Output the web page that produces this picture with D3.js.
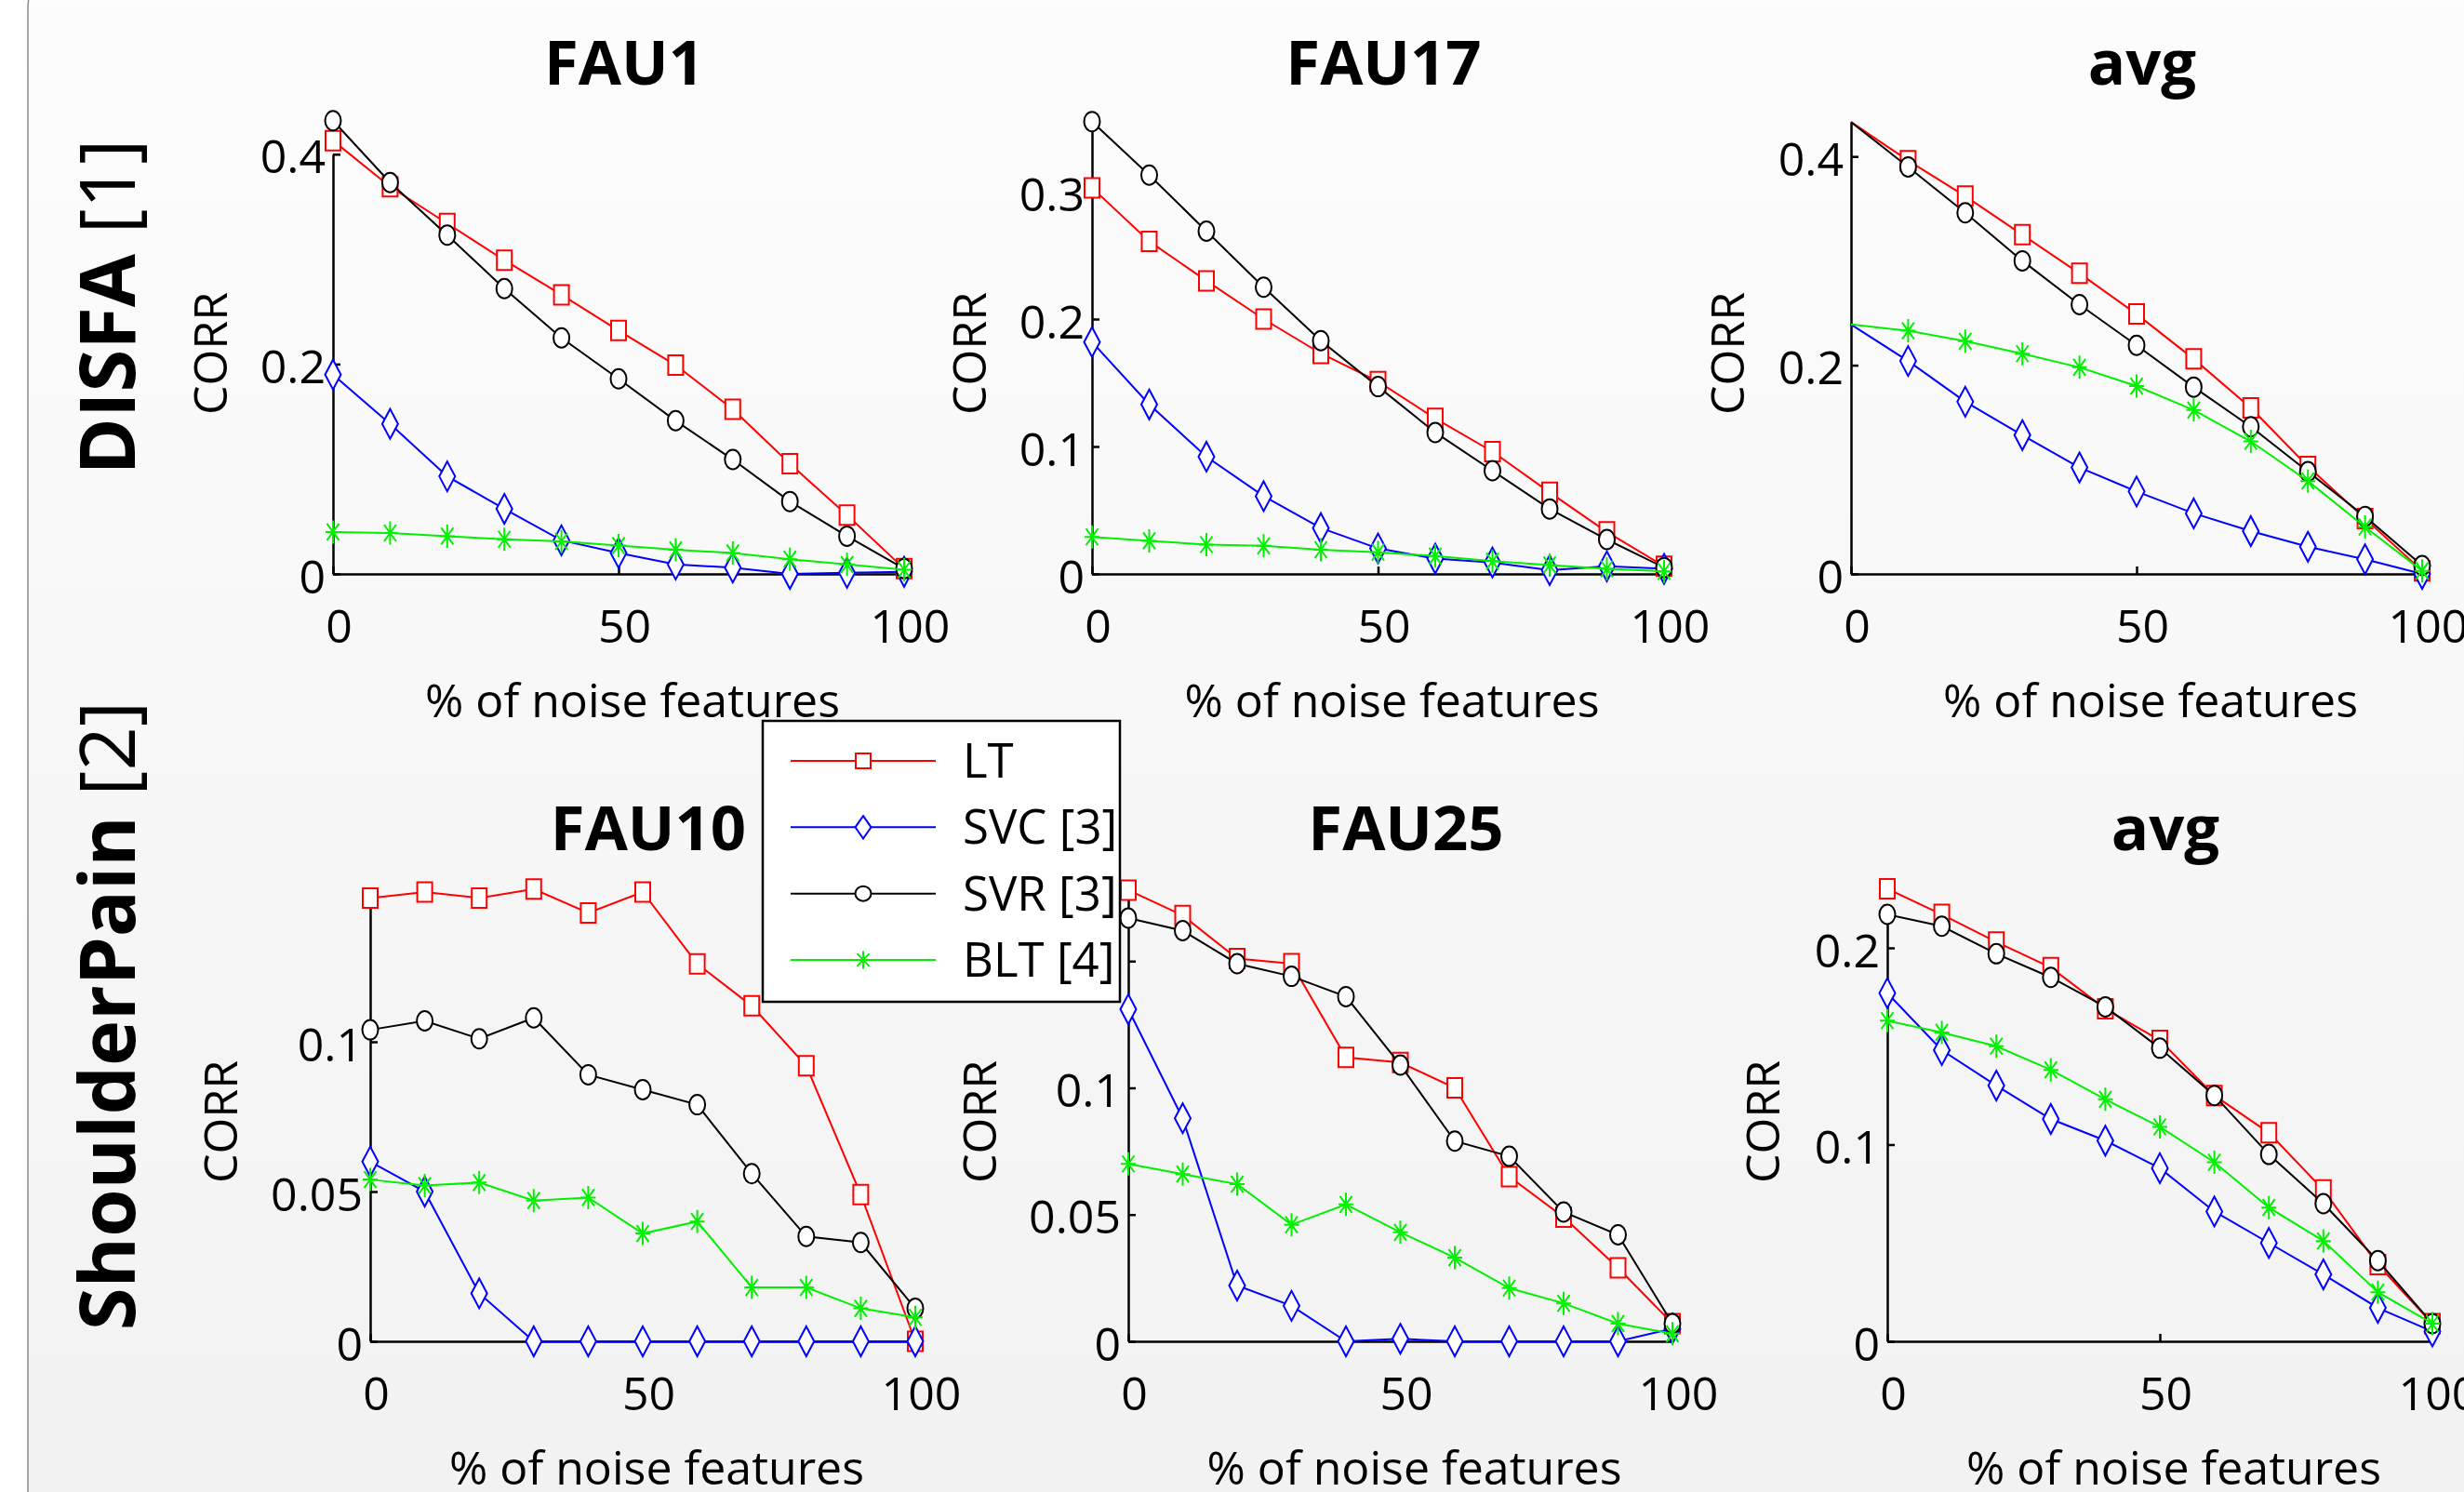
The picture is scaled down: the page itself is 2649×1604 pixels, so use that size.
<!DOCTYPE html>
<html lang="en">
<head>
<meta charset="UTF-8">
<title>CORR vs % of noise features</title>
<script src="https://d3js.org/d3.v7.min.js"></script>
<style>
  body { margin: 0; background: #fff; }
  svg text { font-family: "Open Sans", sans-serif; fill: #000; }
  .axis path, .axis line { stroke: #000; stroke-width: 2.5px; }
  .axis text { font-size: 50px; font-family: "Open Sans", sans-serif; }
</style>
</head>
<body>
<script>
// % of noise features
const noise = [0, 10, 20, 30, 40, 50, 60, 70, 80, 90, 100];

// DISFA [1] - FAU1
const fau1LT  = [0.413, 0.369, 0.334, 0.299, 0.266, 0.232, 0.199, 0.157, 0.105, 0.056, 0.005];
const fau1SVC = [0.190, 0.143, 0.093, 0.062, 0.032, 0.020, 0.009, 0.006, 0.000, 0.001, 0.002];
const fau1SVR = [0.432, 0.373, 0.323, 0.272, 0.225, 0.186, 0.146, 0.109, 0.069, 0.036, 0.005];
const fau1BLT = [0.040, 0.039, 0.036, 0.033, 0.031, 0.027, 0.023, 0.020, 0.014, 0.009, 0.004];

// DISFA [1] - FAU17
const fau17LT  = [0.303, 0.261, 0.230, 0.200, 0.173, 0.151, 0.122, 0.096, 0.064, 0.033, 0.006];
const fau17SVC = [0.182, 0.133, 0.092, 0.061, 0.036, 0.020, 0.012, 0.009, 0.003, 0.006, 0.004];
const fau17SVR = [0.355, 0.313, 0.269, 0.225, 0.183, 0.147, 0.111, 0.081, 0.051, 0.027, 0.005];
const fau17BLT = [0.029, 0.026, 0.023, 0.022, 0.019, 0.017, 0.014, 0.010, 0.007, 0.004, 0.002];

// DISFA [1] - avg
const disfaAvgLT  = [0.433, 0.396, 0.362, 0.325, 0.288, 0.249, 0.206, 0.159, 0.103, 0.053, 0.003];
const disfaAvgSVC = [0.239, 0.204, 0.165, 0.133, 0.102, 0.079, 0.058, 0.041, 0.026, 0.014, 0.000];
const disfaAvgSVR = [0.433, 0.390, 0.346, 0.300, 0.258, 0.219, 0.179, 0.141, 0.098, 0.055, 0.008];
const disfaAvgBLT = [0.239, 0.233, 0.223, 0.211, 0.198, 0.180, 0.157, 0.127, 0.089, 0.045, 0.003];

// ShoulderPain [2] - FAU10
const fau10LT  = [0.148, 0.150, 0.148, 0.151, 0.143, 0.150, 0.126, 0.112, 0.092, 0.049, 0.000];
const fau10SVC = [0.060, 0.050, 0.016, 0.000, 0.000, 0.000, 0.000, 0.000, 0.000, 0.000, 0.000];
const fau10SVR = [0.104, 0.107, 0.101, 0.108, 0.089, 0.084, 0.079, 0.056, 0.035, 0.033, 0.011];
const fau10BLT = [0.054, 0.052, 0.053, 0.047, 0.048, 0.036, 0.040, 0.018, 0.018, 0.011, 0.008];

// ShoulderPain [2] - FAU25
const fau25LT  = [0.178, 0.168, 0.151, 0.149, 0.112, 0.110, 0.100, 0.065, 0.049, 0.029, 0.007];
const fau25SVC = [0.131, 0.088, 0.022, 0.014, 0.000, 0.001, 0.000, 0.000, 0.000, 0.000, 0.005];
const fau25SVR = [0.167, 0.162, 0.149, 0.144, 0.136, 0.109, 0.079, 0.073, 0.051, 0.042, 0.007];
const fau25BLT = [0.070, 0.066, 0.062, 0.046, 0.054, 0.043, 0.033, 0.021, 0.015, 0.007, 0.003];

// ShoulderPain [2] - avg
const spAvgLT  = [0.230, 0.217, 0.203, 0.190, 0.169, 0.153, 0.125, 0.106, 0.077, 0.039, 0.009];
const spAvgSVC = [0.177, 0.148, 0.130, 0.113, 0.102, 0.088, 0.066, 0.050, 0.034, 0.017, 0.005];
const spAvgSVR = [0.217, 0.211, 0.197, 0.185, 0.170, 0.149, 0.125, 0.095, 0.070, 0.041, 0.009];
const spAvgBLT = [0.163, 0.157, 0.150, 0.138, 0.123, 0.109, 0.091, 0.068, 0.051, 0.025, 0.009];

const titles = ["FAU1", "FAU17", "avg", "FAU10", "FAU25", "avg"];
const yTicks = [[0, 0.2, 0.4], [0, 0.1, 0.2, 0.3], [0, 0.2, 0.4], [0, 0.05, 0.1], [0, 0.05, 0.1, 0.15], [0, 0.1, 0.2]];
const yMaxes = [0.4, 0.355, 0.433, 0.145, 0.175, 0.217];
const xTicks = [0, 50, 100];
const rowNames = [["DISFA", " [1]"], ["ShoulderPain", " [2]"]];
const seriesNames = ["LT", "SVC [3]", "SVR [3]", "BLT [4]"];

const panelData = [
  [fau1LT, fau1SVC, fau1SVR, fau1BLT],
  [fau17LT, fau17SVC, fau17SVR, fau17BLT],
  [disfaAvgLT, disfaAvgSVC, disfaAvgSVR, disfaAvgBLT],
  [fau10LT, fau10SVC, fau10SVR, fau10BLT],
  [fau25LT, fau25SVC, fau25SVR, fau25BLT],
  [spAvgLT, spAvgSVC, spAvgSVR, spAvgBLT]
];

// layout (pixels)
const W = 2649, H = 1604;
const boxes = [
  {left: 358,  right: 972,  bottom: 617,  ppu: 1128, corrGap: 114, row: 0},
  {left: 1174, right: 1789, bottom: 617,  ppu: 1370, corrGap: 114, row: 0},
  {left: 1990, right: 2604, bottom: 617,  ppu: 1122, corrGap: 115, row: 0, skipFirst: true},
  {left: 398,  right: 984,  bottom: 1442, ppu: 3220, corrGap: 143, row: 1},
  {left: 1213, right: 1798, bottom: 1442, ppu: 2725, corrGap: 142, row: 1},
  {left: 2029, right: 2615, bottom: 1442, ppu: 2115, corrGap: 116, row: 1}
];
const rowTitleY = [91, 914];
const rowCorrY = [380, 1206];
const rowLabelY = [330, 1092];

const styles = [
  {color: "#ff0000", shape: "square"},
  {color: "#0000ff", shape: "diamond"},
  {color: "#000000", shape: "circle"},
  {color: "#00f000", shape: "asterisk"}
];

function markerPath(shape, sy) {
  if (shape === "square") return `M-8,${-10.5 * sy}H8V${10.5 * sy}H-8Z`;
  if (shape === "circle") {
    const rx = 8.5, ry = 10.5 * sy;
    return `M${-rx},0A${rx},${ry} 0 1,0 ${rx},0A${rx},${ry} 0 1,0 ${-rx},0Z`;
  }
  if (shape === "diamond") return `M0,${-16 * sy}L8.5,0L0,${16 * sy}L-8.5,0Z`;
  return `M0,${-12.5 * sy}V${12.5 * sy}M-8,0H8M-6.5,${-9 * sy}L6.5,${9 * sy}M-6.5,${9 * sy}L6.5,${-9 * sy}`;
}

const svg = d3.select("body").append("svg")
  .attr("width", W)
  .attr("height", H);

const defs = svg.append("defs");
const grad = defs.append("linearGradient")
  .attr("id", "bg").attr("x1", 0).attr("y1", 0).attr("x2", 0).attr("y2", 1);
grad.append("stop").attr("offset", "0%").attr("stop-color", "#fdfdfd");
grad.append("stop").attr("offset", "100%").attr("stop-color", "#f1f1f1");

svg.append("rect").attr("width", W).attr("height", H).attr("fill", "#fff");
svg.append("rect")
  .attr("x", 30).attr("y", -60)
  .attr("width", W + 100).attr("height", H + 200)
  .attr("rx", 70)
  .attr("fill", "url(#bg)")
  .attr("stroke", "#8c8c8c")
  .attr("stroke-width", 1.5);

// row labels
rowNames.forEach((r, i) => {
  const t = svg.append("text")
    .attr("transform", `translate(145,${rowLabelY[i]}) rotate(-90)`)
    .attr("text-anchor", "middle")
    .style("font-size", "83px");
  t.append("tspan").attr("font-weight", 700).text(r[0]);
  t.append("tspan").attr("font-weight", 400).text(r[1]);
});

boxes.forEach((b, p) => {
  const g = svg.append("g");
  const x = d3.scaleLinear().domain([0, 100]).range([b.left, b.right]);
  const yMax = yMaxes[p];
  const y = d3.scaleLinear().domain([0, yMax]).range([b.bottom, b.bottom - yMax * b.ppu]);

  g.append("g")
    .attr("class", "axis")
    .attr("transform", `translate(0,${b.bottom})`)
    .call(d3.axisBottom(x).tickValues(xTicks).tickSizeInner(-8).tickSizeOuter(0).tickPadding(38).tickFormat(d3.format("d")))
    .call(a => a.selectAll("text").attr("dx", 6).attr("fill", "#000"));

  g.append("g")
    .attr("class", "axis")
    .attr("transform", `translate(${b.left},0)`)
    .call(d3.axisLeft(y).tickValues(yTicks[p]).tickSizeInner(-8).tickSizeOuter(0).tickPadding(8).tickFormat(d => String(d)))
    .call(a => a.selectAll("text").attr("dy", "0.4em").attr("fill", "#000"));

  // title
  g.append("text")
    .attr("x", (b.left + b.right) / 2 + 6)
    .attr("y", rowTitleY[b.row])
    .attr("text-anchor", "middle")
    .attr("font-weight", 700)
    .style("font-size", "67px")
    .text(titles[p]);

  // axis labels
  g.append("text")
    .attr("x", (b.left + b.right) / 2 + 15)
    .attr("y", b.bottom + 154)
    .attr("text-anchor", "middle")
    .style("font-size", "50px")
    .text("% of noise features");

  g.append("text")
    .attr("transform", `translate(${b.left - b.corrGap},${rowCorrY[b.row]}) rotate(-90)`)
    .attr("text-anchor", "middle")
    .style("font-size", "50px")
    .text("CORR");

  const line = d3.line().x((d, i) => x(noise[i])).y(d => y(d));

  panelData[p].forEach((vals, s) => {
    const st = styles[s];
    g.append("path")
      .datum(vals)
      .attr("d", line)
      .attr("fill", "none")
      .attr("stroke", st.color)
      .attr("stroke-width", 2);
    const pts = vals.map((v, i) => ({x: noise[i], v, i})).filter(d => !(b.skipFirst && d.i === 0));
    g.selectAll(null)
      .data(pts)
      .enter().append("path")
      .attr("transform", d => `translate(${x(d.x)},${y(d.v)})`)
      .attr("d", markerPath(st.shape, 1))
      .attr("fill", st.shape === "asterisk" ? "none" : "#fff")
      .attr("stroke", st.color)
      .attr("stroke-width", 2);
  });
});

// legend
const leg = svg.append("g");
leg.append("rect")
  .attr("x", 820).attr("y", 775)
  .attr("width", 384).attr("height", 302)
  .attr("fill", "#fff")
  .attr("stroke", "#000")
  .attr("stroke-width", 2.5);
const legY = d3.scalePoint().domain(seriesNames).range([818, 1032]);
seriesNames.forEach((name, s) => {
  const st = styles[s];
  const yy = legY(name);
  leg.append("line")
    .attr("x1", 850).attr("x2", 1006)
    .attr("y1", yy).attr("y2", yy)
    .attr("stroke", st.color).attr("stroke-width", 2);
  leg.append("path")
    .attr("transform", `translate(928,${yy})`)
    .attr("d", markerPath(st.shape, 0.76))
    .attr("fill", st.shape === "asterisk" ? "none" : "#fff")
    .attr("stroke", st.color)
    .attr("stroke-width", 2);
  leg.append("text")
    .attr("x", 1035).attr("y", yy + 18)
    .style("font-size", "51px")
    .text(name);
});
</script>
</body>
</html>
